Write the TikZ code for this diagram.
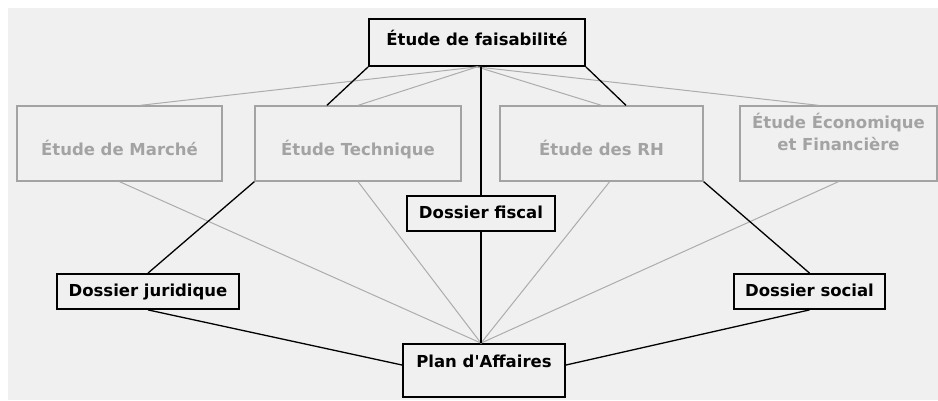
\documentclass[tikz,border=0pt]{standalone}
\usepackage{fontspec}
\setmainfont{DejaVu Sans}
\usetikzlibrary{calc}
\definecolor{fond}{RGB}{240,240,240}
\definecolor{gris}{RGB}{163,163,163}
\definecolor{grislien}{RGB}{172,172,172}

\tikzset{
	dossier/.style={draw=black, line width=1.8pt, inner sep=0pt, text height=22pt, text depth=13pt, font=\bfseries\fontsize{16.5}{22}\selectfont},
	etude/.style={draw=gris, line width=1.3pt, text=gris, inner sep=0pt, minimum height=75pt, text height=23pt, text depth=0pt, font=\bfseries\fontsize{16.5}{22}\selectfont},
	lien/.style={black, line width=1.3pt},
	liengris/.style={grislien, line width=1pt}
}

\begin{document}
\begin{tikzpicture}[x=1pt,y=-1pt]
			\useasboundingbox (0,0) rectangle (938,400);
			\fill[fond] (8,8) rectangle (938,400);
			% niveau haut
			\node[dossier, minimum width=216pt, text height=26pt, text depth=21pt] (faisabilite) at (477,42.5) {Étude de faisabilité};
			\node[etude, minimum width=205pt] (marche) at (119.5,143.5) {Étude de Marché};
			\node[etude, minimum width=206pt] (technique) at (358,143.5) {Étude Technique};
			\node[etude, minimum width=203pt] (rh) at (601.5,143.5) {Étude des RH};
			\node[etude, minimum width=197pt, align=center, text height=44pt, text depth=31pt] (eco) at (838.5,143.5) {Étude Économique\\et Financière};
			% dossiers
			\node[dossier, minimum width=148pt] (fiscal) at (481,213.5) {Dossier fiscal};
			\node[dossier, minimum width=182pt] (juridique) at (148,291.5) {Dossier juridique};
			\node[dossier, minimum width=151pt] (social) at (809.5,291.5) {Dossier social};
			\node[dossier, minimum width=162pt, text height=23pt, text depth=30pt] (plan) at (484,370.5) {Plan d\textquotesingle Affaires};
			\coordinate (hub) at (fiscal.south |- plan.north);
			% liens gris
			\draw[liengris] (faisabilite.south) -- ($(marche.north west)!0.6!(marche.north east)$);
			\draw[liengris] (faisabilite.south) -- (technique.north);
			\draw[liengris] (faisabilite.south) -- (rh.north);
			\draw[liengris] (faisabilite.south) -- ($(eco.north west)!0.4!(eco.north east)$);
			\foreach \n in {marche,technique,eco}
				\draw[liengris] (\n.south) -- (hub);
			\draw[liengris] ($(rh.south west)!0.54!(rh.south east)$) -- (hub);
			% liens noirs
			\draw[lien] (fiscal.north |- faisabilite.south) -- (fiscal.north);
			\draw[lien] (fiscal.south) -- (hub);
			\draw[lien] (faisabilite.south west) -- ($(technique.north west)!0.35!(technique.north east)$);
			\draw[lien] (faisabilite.south east) -- ($(rh.north west)!0.62!(rh.north east)$);
			\draw[lien] (technique.south west) -- (juridique.north);
			\draw[lien] (rh.south east) -- (social.north);
			\draw[lien] (juridique.south) -- ($(plan.north west)!0.4!(plan.south west)$);
			\draw[lien] (social.south) -- ($(plan.north east)!0.4!(plan.south east)$);
	\end{tikzpicture}
\end{document}
